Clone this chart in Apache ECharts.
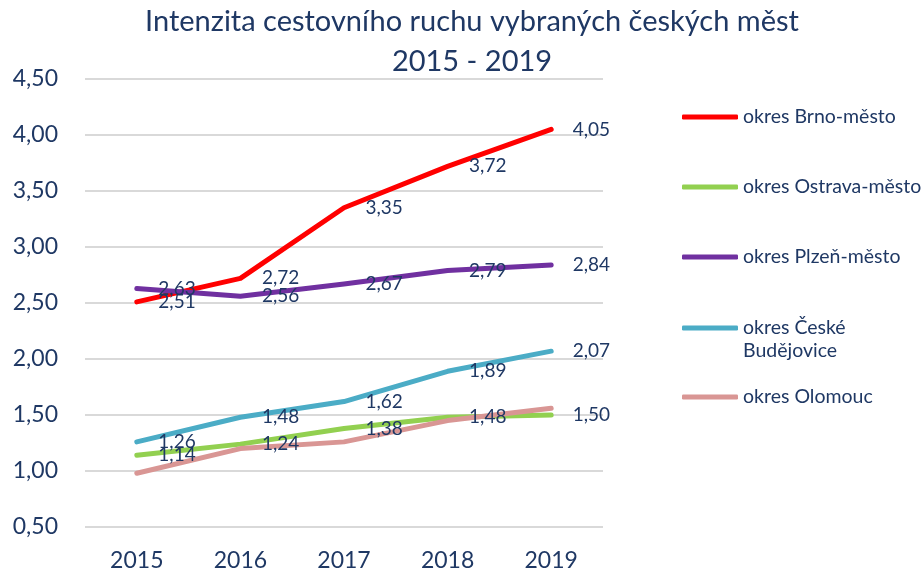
<!DOCTYPE html>
<html>
<head>
<meta charset="utf-8">
<script src="https://cdn.jsdelivr.net/npm/echarts@6/dist/echarts.min.js"></script>
<style>
  html, body { margin: 0; padding: 0; background: #fff; }
  #chart { width: 924px; height: 570px; }
</style>
</head>
<body>
<div id="chart"></div>
<script>
const years = ['2015', '2016', '2017', '2018', '2019']
const brno = [2.51, 2.72, 3.35, 3.72, 4.05]
const ostrava = [1.14, 1.24, 1.38, 1.48, 1.50]
const plzen = [2.63, 2.56, 2.67, 2.79, 2.84]
const budejovice = [1.26, 1.48, 1.62, 1.89, 2.07]
const olomouc = [0.98, 1.20, 1.26, 1.45, 1.56]

const names = ['okres Brno-město', 'okres Ostrava-město', 'okres Plzeň-město', 'okres České Budějovice', 'okres Olomouc']
const colors = ['#FF0000', '#92D050', '#7030A0', '#4BACC6', '#D99694']

const navy = '#1F3864'
const font = 'Lato'

// formát s desetinnou čárkou
const fmt = v => v.toFixed(2).replace('.', ',')

const makeSeries = (i, data, labels) => ({
  name: names[i],
  type: 'line',
  data: data,
  symbol: 'circle',
  symbolSize: 1,
  itemStyle: { color: colors[i] },
  lineStyle: { color: colors[i], width: 5, cap: 'round', join: 'round' },
  label: {
    show: labels,
    position: 'right',
    distance: 21,
    color: navy,
    fontFamily: font,
    fontSize: 19,
    formatter: p => fmt(p.value),
  },
})

// jedna legenda pro každou řadu, ať sedí svislé pozice
const legendTops = [104, 174, 244, 315, 384]
const makeLegend = i => ({
  orient: 'vertical',
  left: 682,
  top: legendTops[i],
  padding: 0,
  itemWidth: 56,
  itemHeight: 5,
  icon: 'roundRect',
  data: [names[i]],
  formatter: n => (n === 'okres České Budějovice' ? 'okres České' : n),
  textStyle: { color: navy, fontFamily: font, fontSize: 19.5, lineHeight: 26 },
})

const chart = echarts.init(document.getElementById('chart'))
const option = {
  animation: false,
  title: {
    text: 'Intenzita cestovního ruchu vybraných českých měst\n2015 - 2019',
    left: 472,
    top: 2,
    padding: 0,
    textAlign: 'center',
    textStyle: {
      color: navy,
      fontFamily: font,
      fontSize: 29,
      fontWeight: 'normal',
      lineHeight: 40,
    },
  },
  legend: [0, 1, 2, 3, 4].map(makeLegend),
  graphic: [
    {
      type: 'text',
      left: 743,
      top: 341,
      style: { text: 'Budějovice', fill: navy, font: '19.5px Lato' },
    },
  ],
  grid: {
    left: 85,
    right: 321,
    top: 79,
    bottom: 43,
    outerBoundsMode: 'none',
  },
  xAxis: {
    type: 'category',
    data: years,
    axisLine: { show: false },
    axisTick: { show: false },
    axisLabel: { color: navy, fontFamily: font, fontSize: 23, margin: 22 },
  },
  yAxis: {
    type: 'value',
    min: 0.5,
    max: 4.5,
    interval: 0.5,
    axisLine: { show: false },
    axisTick: { show: false },
    splitLine: { lineStyle: { color: '#D9D9D9', width: 2 } },
    axisLabel: {
      color: navy,
      fontFamily: font,
      fontSize: 23,
      margin: 27,
      formatter: v => fmt(v),
    },
  },
  series: [
    makeSeries(0, brno, true),
    makeSeries(1, ostrava, true),
    makeSeries(2, plzen, true),
    makeSeries(3, budejovice, true),
    makeSeries(4, olomouc, false),
  ],
}
chart.setOption(option)
</script>
</body>
</html>
